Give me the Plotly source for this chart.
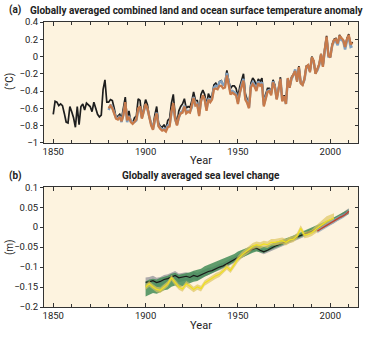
import plotly.graph_objects as go

# ---------------- Panel (a): temperature anomaly (°C) ----------------
years_black = list(range(1850, 2013))
temp_black = [
    -0.67, -0.52, -0.53, -0.57, -0.55, -0.57, -0.66, -0.76, -0.77, -0.58,
    -0.64, -0.71, -0.82, -0.58, -0.79, -0.58, -0.55, -0.62, -0.54, -0.56,
    -0.58, -0.64, -0.53, -0.60, -0.67, -0.70, -0.68, -0.38, -0.27, -0.53,
    -0.53, -0.50, -0.51, -0.60, -0.71, -0.69, -0.67, -0.72, -0.61, -0.47,
    -0.72, -0.63, -0.76, -0.77, -0.71, -0.69, -0.49, -0.51, -0.71, -0.59,
    -0.50, -0.56, -0.70, -0.78, -0.82, -0.68, -0.58, -0.77, -0.81, -0.82,
    -0.79, -0.84, -0.74, -0.72, -0.54, -0.44, -0.68, -0.77, -0.63, -0.58,
    -0.55, -0.49, -0.60, -0.58, -0.59, -0.52, -0.41, -0.51, -0.51, -0.65,
    -0.44, -0.39, -0.44, -0.57, -0.43, -0.48, -0.45, -0.33, -0.31, -0.35,
    -0.29, -0.28, -0.33, -0.30, -0.16, -0.28, -0.37, -0.34, -0.34, -0.37,
    -0.47, -0.35, -0.27, -0.20, -0.43, -0.49, -0.57, -0.31, -0.25, -0.28,
    -0.35, -0.26, -0.29, -0.25, -0.52, -0.44, -0.37, -0.37, -0.41, -0.27,
    -0.33, -0.49, -0.37, -0.24, -0.51, -0.45, -0.54, -0.25, -0.36, -0.24,
    -0.21, -0.16, -0.29, -0.11, -0.31, -0.33, -0.26, -0.11, -0.10, -0.18,
    -0.00, -0.05, -0.20, -0.15, -0.09, 0.03, -0.12, 0.09, 0.24, 0.01,
    -0.01, 0.14, 0.20, 0.21, 0.15, 0.25, 0.21, 0.19, 0.10, 0.21,
    0.26, 0.13, 0.17,
]

years_other = list(range(1880, 2013))
temp_blue = [
    -0.62, -0.56, -0.59, -0.64, -0.71, -0.72, -0.69, -0.76, -0.67, -0.55,
    -0.76, -0.69, -0.74, -0.77, -0.76, -0.74, -0.62, -0.60, -0.71, -0.63,
    -0.56, -0.61, -0.70, -0.78, -0.84, -0.74, -0.65, -0.80, -0.83, -0.85,
    -0.84, -0.85, -0.80, -0.79, -0.65, -0.57, -0.73, -0.79, -0.71, -0.65,
    -0.63, -0.57, -0.65, -0.63, -0.64, -0.59, -0.47, -0.56, -0.55, -0.67,
    -0.51, -0.46, -0.49, -0.61, -0.49, -0.52, -0.48, -0.36, -0.34, -0.35,
    -0.30, -0.29, -0.33, -0.32, -0.19, -0.30, -0.41, -0.40, -0.42, -0.43,
    -0.53, -0.40, -0.32, -0.26, -0.48, -0.52, -0.59, -0.34, -0.30, -0.33,
    -0.38, -0.29, -0.32, -0.30, -0.56, -0.48, -0.40, -0.39, -0.43, -0.29,
    -0.35, -0.49, -0.39, -0.26, -0.51, -0.46, -0.55, -0.26, -0.35, -0.26,
    -0.22, -0.15, -0.28, -0.13, -0.30, -0.32, -0.27, -0.13, -0.11, -0.17,
    -0.02, -0.06, -0.19, -0.16, -0.10, 0.02, -0.10, 0.07, 0.22, 0.00,
    0.00, 0.12, 0.18, 0.18, 0.13, 0.23, 0.19, 0.18, 0.08, 0.18,
    0.22, 0.11, 0.12,
]
temp_orange = [
    -0.60, -0.57, -0.60, -0.65, -0.72, -0.73, -0.70, -0.75, -0.68, -0.53,
    -0.74, -0.70, -0.76, -0.78, -0.75, -0.73, -0.60, -0.58, -0.72, -0.62,
    -0.55, -0.60, -0.72, -0.80, -0.85, -0.73, -0.66, -0.81, -0.84, -0.86,
    -0.85, -0.87, -0.82, -0.81, -0.64, -0.54, -0.72, -0.80, -0.70, -0.66,
    -0.65, -0.58, -0.66, -0.64, -0.65, -0.58, -0.48, -0.57, -0.56, -0.69,
    -0.52, -0.45, -0.50, -0.63, -0.50, -0.53, -0.50, -0.38, -0.37, -0.38,
    -0.34, -0.34, -0.37, -0.36, -0.22, -0.33, -0.44, -0.42, -0.44, -0.45,
    -0.55, -0.42, -0.35, -0.28, -0.50, -0.54, -0.60, -0.36, -0.32, -0.35,
    -0.40, -0.31, -0.34, -0.32, -0.58, -0.50, -0.41, -0.40, -0.45, -0.30,
    -0.36, -0.50, -0.40, -0.26, -0.52, -0.46, -0.55, -0.25, -0.36, -0.25,
    -0.21, -0.17, -0.29, -0.12, -0.31, -0.33, -0.26, -0.12, -0.10, -0.18,
    -0.01, -0.05, -0.20, -0.15, -0.09, 0.03, -0.12, 0.08, 0.23, 0.01,
    -0.01, 0.13, 0.19, 0.20, 0.15, 0.24, 0.21, 0.19, 0.11, 0.20,
    0.25, 0.14, 0.16,
]

# ---------------- Panel (b): sea level change (m) ----------------
years_sl = list(range(1900, 2011, 2))
sl_black = [
    -0.138, -0.137, -0.134, -0.139, -0.136, -0.131, -0.129, -0.124, -0.121, -0.127,
    -0.125, -0.123, -0.126, -0.121, -0.124, -0.119, -0.114, -0.111, -0.109, -0.104,
    -0.100, -0.097, -0.092, -0.088, -0.082, -0.076, -0.070, -0.066, -0.060, -0.055,
    -0.052, -0.058, -0.062, -0.058, -0.052, -0.048, -0.044, -0.040, -0.038, -0.034,
    -0.030, -0.025, -0.020, -0.017, -0.013, -0.010, -0.006, -0.002, 0.002, 0.007,
    0.011, 0.016, 0.022, 0.028, 0.034, 0.040,
]
sl_black_err = [
    0.012, 0.012, 0.012, 0.012, 0.011, 0.011, 0.011, 0.011, 0.011, 0.011,
    0.010, 0.010, 0.010, 0.010, 0.009, 0.009, 0.009, 0.009, 0.008, 0.008,
    0.008, 0.008, 0.008, 0.007, 0.007, 0.007, 0.007, 0.007, 0.007, 0.006,
    0.006, 0.006, 0.006, 0.006, 0.006, 0.006, 0.006, 0.006, 0.006, 0.006,
    0.006, 0.006, 0.006, 0.006, 0.006, 0.006, 0.006, 0.006, 0.006, 0.006,
    0.006, 0.006, 0.006, 0.006, 0.006, 0.007,
]
sl_green = [
    -0.155, -0.150, -0.147, -0.149, -0.145, -0.141, -0.139, -0.133, -0.130, -0.135,
    -0.132, -0.129, -0.127, -0.123, -0.121, -0.117, -0.111, -0.107, -0.103, -0.099,
    -0.095, -0.091, -0.087, -0.082, -0.077, -0.071, -0.067, -0.063, -0.059, -0.055,
    -0.053, -0.055, -0.057, -0.054, -0.049, -0.045, -0.042, -0.039, -0.036, -0.032,
    -0.028, -0.024, -0.019, -0.015, -0.011, -0.007, -0.003, 0.001, 0.005, 0.009,
    0.014, 0.019, 0.024, 0.029, 0.034, 0.039,
]
sl_green_err = [
    0.019, 0.019, 0.018, 0.018, 0.018, 0.017, 0.017, 0.016, 0.016, 0.016,
    0.015, 0.015, 0.014, 0.014, 0.014, 0.013, 0.013, 0.013, 0.012, 0.012,
    0.012, 0.011, 0.011, 0.011, 0.010, 0.010, 0.010, 0.009, 0.009, 0.009,
    0.008, 0.008, 0.008, 0.008, 0.008, 0.007, 0.007, 0.007, 0.007, 0.007,
    0.007, 0.007, 0.006, 0.006, 0.006, 0.006, 0.006, 0.006, 0.006, 0.006,
    0.006, 0.006, 0.006, 0.006, 0.006, 0.006,
]

years_yellow = list(range(1900, 2003, 2))
sl_yellow = [
    -0.150, -0.142, -0.150, -0.156, -0.158, -0.150, -0.142, -0.127, -0.140, -0.150,
    -0.155, -0.142, -0.148, -0.156, -0.150, -0.154, -0.140, -0.135, -0.128, -0.122,
    -0.118, -0.110, -0.100, -0.108, -0.094, -0.080, -0.070, -0.063, -0.056, -0.048,
    -0.044, -0.046, -0.042, -0.044, -0.038, -0.038, -0.036, -0.034, -0.038, -0.032,
    -0.030, -0.022, -0.003, -0.020, -0.018, -0.014, -0.006, 0.000, 0.008, 0.015,
    0.019, 0.023,
]
sl_yellow_err = [
    0.007, 0.007, 0.007, 0.007, 0.007, 0.007, 0.007, 0.007, 0.007, 0.007,
    0.007, 0.007, 0.007, 0.007, 0.007, 0.007, 0.007, 0.007, 0.007, 0.007,
    0.007, 0.007, 0.007, 0.007, 0.007, 0.008, 0.008, 0.008, 0.008, 0.008,
    0.008, 0.008, 0.008, 0.008, 0.008, 0.008, 0.008, 0.008, 0.008, 0.008,
    0.008, 0.008, 0.008, 0.008, 0.008, 0.008, 0.009, 0.010, 0.011, 0.012,
    0.012, 0.012,
]

years_sat = list(range(1993, 2011))
sl_sat = [
    -0.010, -0.008, -0.004, -0.001, 0.002, 0.004, 0.006, 0.009, 0.012, 0.015,
    0.018, 0.021, 0.024, 0.026, 0.028, 0.031, 0.035, 0.040,
]
sl_sat_err = [0.005] * len(sl_sat)

# ---------------- styling ----------------
BG = "#fdf3df"
AXC = "#333333"
TXT = "#222222"
FONT = "Roboto"


def band(x, y, err, color, xa, ya):
    upper = [v + e for v, e in zip(y, err)]
    lower = [v - e for v, e in zip(y, err)]
    return go.Scatter(
        x=list(x) + list(x)[::-1], y=upper + lower[::-1],
        fill="toself", fillcolor=color, line=dict(width=0),
        mode="lines", hoverinfo="skip", showlegend=False,
        xaxis=xa, yaxis=ya,
    )


fig = go.Figure()

# (a) lines: black underneath, then blue, then orange on top
fig.add_trace(go.Scatter(x=years_black, y=temp_black, mode="lines",
                         line=dict(color="#1e1e1e", width=1.7),
                         showlegend=False, xaxis="x", yaxis="y"))
fig.add_trace(go.Scatter(x=years_other, y=temp_blue, mode="lines",
                         line=dict(color="#7f9fbf", width=2.5),
                         showlegend=False, xaxis="x", yaxis="y"))
fig.add_trace(go.Scatter(x=years_other, y=temp_orange, mode="lines",
                         line=dict(color="#c77a4a", width=2.3),
                         showlegend=False, xaxis="x", yaxis="y"))

# (b) uncertainty bands and central lines
fig.add_trace(band(years_sl, sl_black, sl_black_err, "rgba(140,140,150,0.7)", "x2", "y2"))
fig.add_trace(band(years_sl, sl_green, sl_green_err, "rgba(68,140,88,0.85)", "x2", "y2"))
fig.add_trace(go.Scatter(x=years_sl, y=sl_black, mode="lines",
                         line=dict(color="#1a1a1a", width=1.2),
                         showlegend=False, xaxis="x2", yaxis="y2"))
fig.add_trace(band(years_yellow, sl_yellow, sl_yellow_err, "rgba(222,196,96,0.7)", "x2", "y2"))
fig.add_trace(band(years_sat, sl_sat, sl_sat_err, "rgba(150,168,185,0.8)", "x2", "y2"))
fig.add_trace(go.Scatter(x=years_yellow, y=sl_yellow, mode="lines",
                         line=dict(color="#f0e020", width=1.2),
                         showlegend=False, xaxis="x2", yaxis="y2"))
fig.add_trace(go.Scatter(x=years_sat, y=sl_sat, mode="lines",
                         line=dict(color="#c0442c", width=1.4),
                         showlegend=False, xaxis="x2", yaxis="y2"))

xaxis_common = dict(
    range=[1845, 2015], tickvals=[1850, 1900, 1950, 2000],
    ticks="inside", ticklen=4, tickcolor=AXC,
    minor=dict(dtick=10, tick0=1850, ticks="inside", ticklen=3, tickcolor=AXC),
    showline=True, linecolor=AXC, linewidth=1, mirror="ticks",
    showgrid=False, zeroline=False,
    tickfont=dict(family=FONT, size=9.5, color=TXT),
    title=dict(text="Year", font=dict(family=FONT, size=11, color=TXT), standoff=0),
)
yaxis_left = dict(
    ticks="outside", ticklen=3, tickcolor=AXC,
    showline=True, linecolor=AXC, linewidth=1, mirror=True,
    showgrid=False, zeroline=False,
    tickfont=dict(family=FONT, size=9.5, color=TXT),
)
yaxis_right = dict(
    side="right", ticks="inside", ticklen=3, tickcolor=AXC,
    showticklabels=False, showline=False, showgrid=False, zeroline=False,
)

fig.update_layout(
    width=390, height=341,
    margin=dict(l=44, r=32, t=22, b=24),
    paper_bgcolor="white",
    plot_bgcolor=BG,
    xaxis=dict(domain=[0, 1], anchor="y", **xaxis_common),
    yaxis=dict(domain=[0.5763, 1.0], anchor="x", range=[-1, 0.4], dtick=0.2,
               **yaxis_left),
    yaxis3=dict(overlaying="y", anchor="x", range=[-1, 0.4], dtick=0.2,
                **yaxis_right),
    xaxis2=dict(domain=[0, 1], anchor="y2", **xaxis_common),
    yaxis2=dict(domain=[0.0, 0.4203], anchor="x2", range=[-0.2, 0.1], dtick=0.05,
                **yaxis_left),
    yaxis4=dict(overlaying="y2", anchor="x2", range=[-0.2, 0.1], dtick=0.05,
                **yaxis_right),
    shapes=[
        dict(type="rect", xref="x2 domain", yref="y2 domain", x0=0, x1=1, y0=0, y1=1,
             fillcolor=BG, line=dict(width=0), layer="below"),
    ],
)

# invisible traces so the right-hand tick axes are drawn
fig.add_trace(go.Scatter(x=[None], y=[None], xaxis="x", yaxis="y3",
                         showlegend=False, hoverinfo="skip"))
fig.add_trace(go.Scatter(x=[None], y=[None], xaxis="x2", yaxis="y4",
                         showlegend=False, hoverinfo="skip"))

# text placed in pixel terms of the 390x341 canvas
W, H = 390, 341
L, R, T, B = 44, 32, 22, 24
pw, ph = W - L - R, H - T - B


def px_to_paper(px, py):
    return (px - L) / pw, (H - B - py) / ph


texts = [
    ("<b>(a)</b>", 8, 10, "left", 0, 10),
    ("<b>Globally averaged combined land and ocean surface temperature anomaly</b>",
     29, 10, "left", 0, 10),
    ("<b>(b)</b>", 8, 181, "left", 0, 10),
    ("<b>Globally averaged sea level change</b>", 201, 181, "center", 0, 10),
    ("(°C)", 10, 84, "center", -90, 10),
    ("(m)", 10, 255, "center", -90, 10),
]
for text, px, py, xanchor, angle, size in texts:
    x, y = px_to_paper(px, py)
    fig.add_annotation(text=text, x=x, y=y, xref="paper", yref="paper",
                       xanchor=xanchor, yanchor="middle", textangle=angle,
                       showarrow=False, borderpad=0,
                       font=dict(family=FONT, size=size, color=TXT))

fig.write_html("out.html")
